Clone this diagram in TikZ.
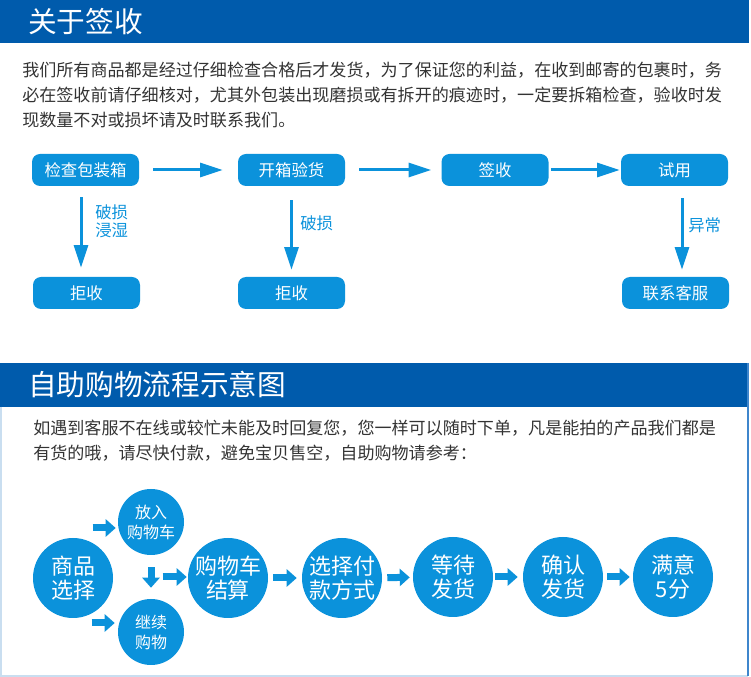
\documentclass[tikz,border=0pt]{standalone}
\usepackage{fontspec}
\setmainfont{Noto Sans CJK SC}
\usetikzlibrary{arrows.meta,calc}
\definecolor{bannerblue}{HTML}{005BAC}
\definecolor{boxblue}{HTML}{0B92DB}
\definecolor{txtgray}{HTML}{333333}
\definecolor{framelight}{HTML}{C9DEF0}
\definecolor{frameblue}{HTML}{3F86CC}
\tikzset{
  banner/.style={fill=bannerblue},
  title/.style={text=white,font=\fontsize{21.5}{24}\selectfont,anchor=west,inner sep=0pt},
  para/.style={text=txtgray,font=\fontsize{12.8}{18.75}\selectfont,anchor=north west,align=left,inner sep=0pt},
  stepbox/.style={fill=boxblue,rounded corners=6pt,minimum width=80.25pt,minimum height=24pt,text=white,font=\fontsize{12.3}{14}\selectfont,inner sep=0pt},
  flow/.style={draw=boxblue,line width=2.25pt,-{Triangle[length=17pt,width=10.5pt]}},
  lbl/.style={text=boxblue,font=\fontsize{12.3}{13.5}\selectfont,align=left,anchor=west,inner sep=0pt},
  bigdot/.style={circle,fill=boxblue,minimum size=60pt,inner sep=0pt,text=white,align=center,font=\fontsize{16.5}{18}\selectfont},
  smalldot/.style={circle,fill=boxblue,minimum size=49.5pt,inner sep=0pt,text=white,align=center,font=\fontsize{12}{15}\selectfont},
  fat/.style={draw=boxblue,line width=5.25pt,-{Triangle[length=7.5pt,width=12.75pt]}}
}
\begin{document}
\begin{tikzpicture}[x=0.75pt,y=-0.75pt]
\useasboundingbox (0,0) rectangle (751,677);

\fill[banner] (0,0) rectangle (749,43);
\node[title] (head1) at (28,22) {关于签收};
\node[para] (text1) at (22,62) {我们所有商品都是经过仔细检查合格后才发货，为了保证您的利益，在收到邮寄的包裹时，务\\必在签收前请仔细核对，尤其外包装出现磨损或有拆开的痕迹时，一定要拆箱检查，验收时发\\现数量不对或损坏请及时联系我们。};

\node[stepbox] (chk) at (85.5,170) {检查包装箱};
\node[stepbox] (open) at (291.5,170) {开箱验货};
\node[stepbox] (sign) at (495,170) {签收};
\node[stepbox] (try) at (674.5,170) {试用};
\node[stepbox] (rej1) at (86.5,293) {拒收};
\node[stepbox] (rej2) at (291.5,293) {拒收};
\node[stepbox] (svc) at (675.5,293) {联系客服};

\draw[flow,shorten <=10.5pt,shorten >=11.25pt] (chk) -- (open);
\draw[flow,shorten <=10.5pt,shorten >=7.5pt] (open) -- (sign);
\draw[flow,shorten <=1.5pt,shorten >=0.75pt] (sign) -- (try);
\draw[flow] ($(chk.south)+(-4.5,11)$) -- ($(rej1.north)+(-5.5,-9)$);
\draw[flow] ($(open.south)+(0,14)$) -- ($(rej2.north)+(0,-7)$);
\draw[flow] ($(try.south)+(7.5,12)$) -- ($(svc.north)+(6.5,-7)$);

\node[lbl] (why1) at (95,221) {破损\\浸湿};
\node[lbl] (why2) at (300,223) {破损};
\node[lbl] (why3) at (688,225) {异常};

\fill[banner] (0,363) rectangle (749,407);
\node[title] (head2) at (28,385) {自助购物流程示意图};
\draw[framelight,line width=1.5pt] (1,407) -- (1,676) -- (748,676);
\draw[frameblue,line width=1.5pt] (748,363) -- (748,676);
\node[para] (text2) at (33,420) {如遇到客服不在线或较忙未能及时回复您，您一样可以随时下单，凡是能拍的产品我们都是\\有货的哦，请尽快付款，避免宝贝售空，自助购物请参考：};

\node[bigdot] (pick) at (73,578) {商品\\选择};
\node[smalldot] (put) at (151,522) {放入\\购物车};
\node[smalldot] (more) at (151,632) {继续\\购物};
\node[bigdot] (cart) at (228,578) {购物车\\结算};
\node[bigdot] (pay) at (342,578) {选择付\\款方式};
\node[bigdot] (wait) at (453,577) {等待\\发货};
\node[bigdot] (conf) at (563,577) {确认\\发货};
\node[bigdot] (ok) at (673,577) {满意\\5分};

\draw[fat] ($(put.west)+(-25,6)$) -- ($(put.west)+(-2,6)$);
\draw[fat] ($(more.west)+(-26,-9)$) -- ($(more.west)+(-3,-9)$);
\draw[fat,shorten <=9pt,shorten >=8.25pt] (put) -- (more);
\draw[fat] ($(cart.west)+(-25,-1)$) -- ($(cart.west)+(-1,-1)$);
\draw[fat,shorten <=3.75pt,shorten >=3.75pt] (cart) -- (pay);
\draw[fat,shorten <=3.75pt,shorten >=2.25pt] (pay) -- (wait);
\draw[fat,shorten <=1.5pt,shorten >=3.75pt] (wait) -- (conf);
\draw[fat,shorten <=3pt,shorten >=2.25pt] (conf) -- (ok);
\end{tikzpicture}
\end{document}
